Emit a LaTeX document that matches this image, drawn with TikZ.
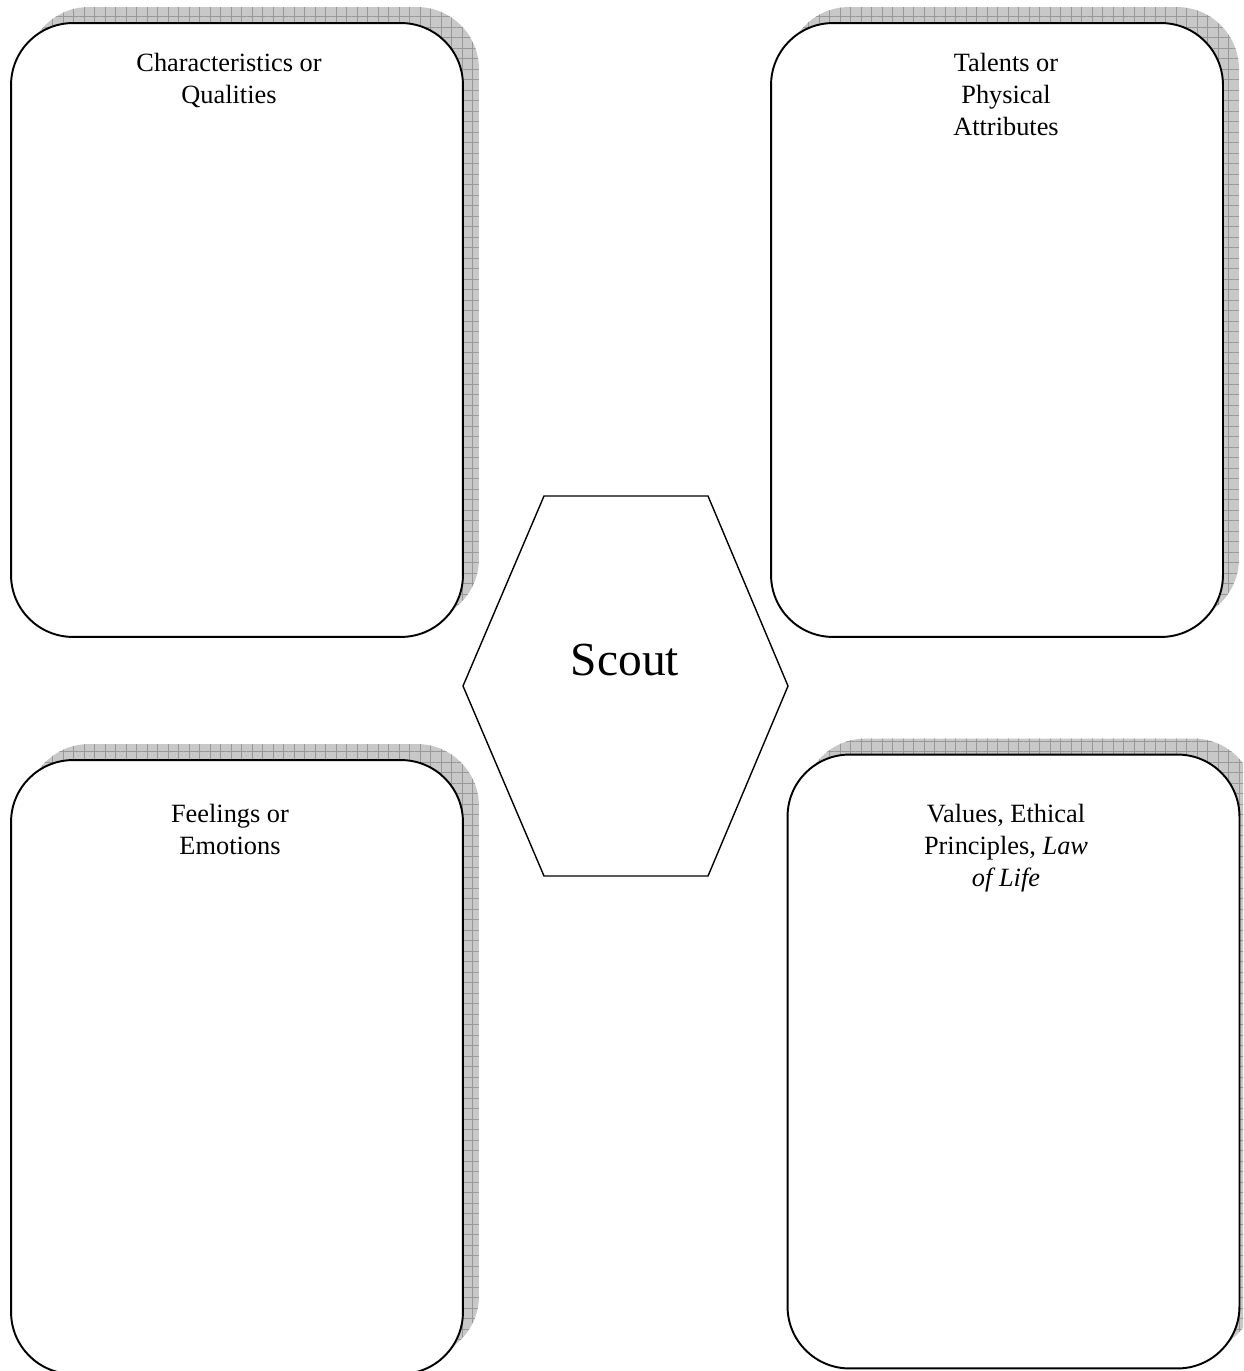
\documentclass[tikz,border=0pt]{standalone}
\usepackage{fontspec}
\setmainfont{Liberation Serif}
\usepackage{xcolor}
\usetikzlibrary{positioning,calc,patterns.meta}
\definecolor{ink}{HTML}{000000}
\definecolor{shadeGray}{HTML}{C8C8C8}
\definecolor{gridGray}{HTML}{989898}
\tikzset{
  card/.style={draw=ink, fill=white, line width=1.1pt, rounded corners=1.24cm,
    minimum width=9.04cm, minimum height=12.28cm, inner sep=0pt},
  cardshade/.style={preaction={fill=shadeGray}, rounded corners=1.24cm,
    minimum width=9.04cm, minimum height=12.28cm, inner sep=0pt,
    pattern={Hatch[angle=0, distance=0.21cm, line width=0.3pt]}, pattern color=gridGray},
  lbl/.style={font=\fontsize{15}{18.2}\selectfont, text=ink, align=center, inner sep=0pt, anchor=north},
}

\begin{document}
\begin{tikzpicture}[x=0.02cm, y=-0.02cm]
\clip (0,0) rectangle (1243,1371);
% four cards with their grid shadows
\foreach \nm/\cx/\cy in {qual/237/330, tal/997/330, feel/237/1067, val/1013.5/1061.5}{
  \node[cardshade] at (\cx+16,\cy-16) {};
  \node[card] (\nm) at (\cx,\cy) {};
}
\node[lbl] (qualtxt) at ([xshift=-0.16cm, yshift=-0.62cm]qual.north) {Characteristics or\\Qualities};
\node[lbl] (taltxt) at ([xshift=0.18cm, yshift=-0.62cm]tal.north) {Talents or\\Physical\\Attributes};
\node[lbl] (feeltxt) at ([xshift=-0.14cm, yshift=-0.9cm]feel.north) {Feelings or\\Emotions};
\node[lbl] (valtxt) at ([xshift=-0.15cm, yshift=-1.0cm]val.north) {Values, Ethical\\Principles, \textit{Law}\\\textit{of Life}};
% centre hexagon
\draw[ink, line width=0.8pt] (544,496) -- (708,496) -- (788,686) -- (708,876) -- (544,876) -- (463,686) -- cycle;
\node[font=\fontsize{27}{32}\selectfont, text=ink, anchor=base] (scout) at (625,675) {Scout};
\end{tikzpicture}
\end{document}
